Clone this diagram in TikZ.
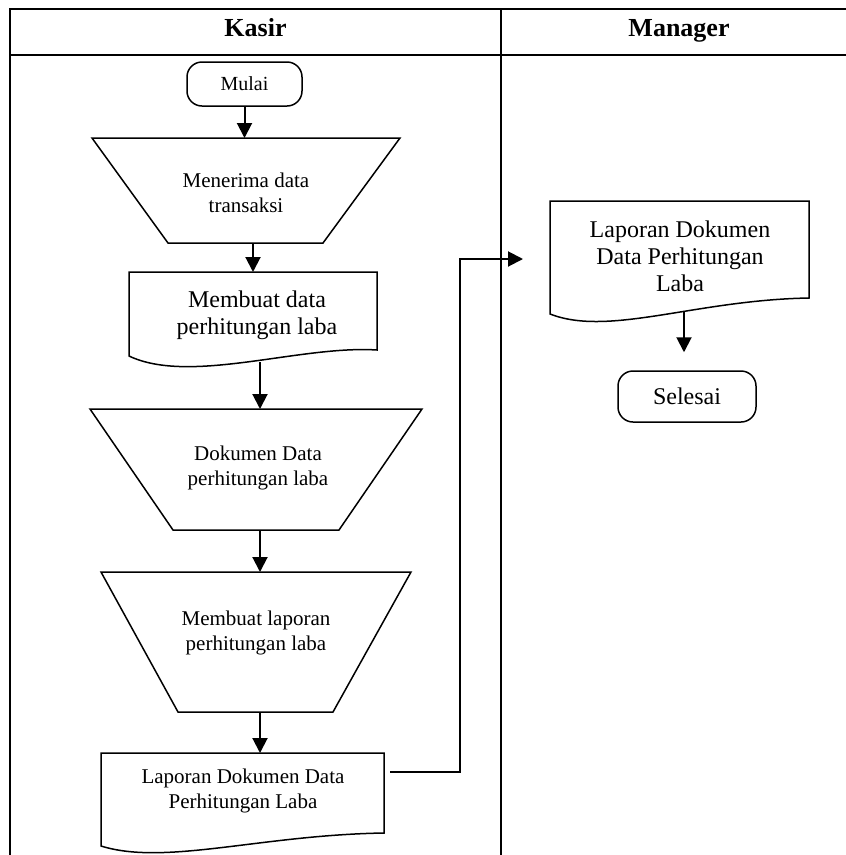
\documentclass[tikz,border=0pt]{standalone}
\usepackage{fontspec}
\setmainfont{Liberation Serif}
\usetikzlibrary{arrows.meta}
\begin{document}
\begin{tikzpicture}[x=1pt,y=-1pt,
  lane/.style={line width=2pt},
  outline/.style={line width=1.5pt, line join=miter},
  flow/.style={line width=2pt, -{Triangle[length=15pt,width=15pt]}},
  term/.style={draw, line width=1.5pt, rounded corners=15pt, align=center, inner sep=0pt},
  smalltxt/.style={font=\fontsize{21}{24.5}\selectfont, align=center, inner sep=0pt},
  bigtxt/.style={font=\fontsize{24}{27}\selectfont, align=center, inner sep=0pt},
  head/.style={font=\fontsize{26}{30}\selectfont\bfseries, inner sep=0pt, anchor=base}
]
\useasboundingbox (0,0) rectangle (846,855);

% swimlane grid
\draw[lane] (850,9) -- (10,9) -- (10,860);
\draw[lane] (10,55) -- (850,55);
\draw[lane] (501,9) -- (501,860);
\node[head] (kasir) at (255.5,36) {Kasir};
\node[head] (manager) at (679,36) {Manager};

% start terminator
\node[term, minimum width=115pt, minimum height=44pt,
      font=\fontsize{20}{24}\selectfont] (mulai) at (244.5,84) {Mulai};

% manual input: receive transaction data
\draw[outline] (92,138) -- (400,138) -- (323,243) -- (168,243) -- cycle;
\node[smalltxt] (t1) at (246,193) {Menerima data\\transaksi};
\coordinate (t1top) at (244.5,138);
\coordinate (t1bot) at (253,243);

% document: profit calculation data
\draw[outline] (129,356) -- (129,272) -- (377,272) -- (377,350)
  .. controls (300,345) and (190,385) .. (129,356) -- cycle;
\node[bigtxt] (d1) at (257,315) {Membuat data\\perhitungan laba};
\coordinate (d1top) at (253,272);
\coordinate (d1bot) at (260,362);

% manual input: profit calculation document
\draw[outline] (90,409) -- (422,409) -- (339,530) -- (173,530) -- cycle;
\node[smalltxt] (t2) at (258,468) {Dokumen Data\\perhitungan laba};
\coordinate (t2top) at (260,409);
\coordinate (t2bot) at (260,530);

% manual input: build profit report
\draw[outline] (101,572) -- (411,572) -- (333,712) -- (178,712) -- cycle;
\node[smalltxt] (t3) at (256,633) {Membuat laporan\\perhitungan laba};
\coordinate (t3top) at (260,572);
\coordinate (t3bot) at (260,712);

% document: report of profit calculation
\draw[outline] (101,846) -- (101,753) -- (384,753) -- (384,833)
  .. controls (260,835) and (165,866) .. (101,846) -- cycle;
\node[smalltxt] (d2) at (243,791) {Laporan Dokumen Data\\Perhitungan Laba};
\coordinate (d2top) at (260,753);
\coordinate (d2out) at (390,772);

% manager's copy of the report
\draw[outline] (550,314) -- (550,201) -- (809,201) -- (809,298)
  .. controls (695,300) and (609,337) .. (550,314) -- cycle;
\node[bigtxt] (d3) at (680,256) {Laporan Dokumen\\Data Perhitungan\\Laba};
\coordinate (d3in) at (523,259);
\coordinate (d3bot) at (684,311);

% end terminator
\node[term, minimum width=138pt, minimum height=51pt,
      font=\fontsize{24}{27}\selectfont] (selesai) at (687,396.5) {Selesai};

% flow connectors
\draw[flow] (mulai.south) -- (t1top);
\draw[flow] (t1bot) -- (d1top);
\draw[flow] (d1bot) -- (t2top);
\draw[flow] (t2bot) -- (t3top);
\draw[flow] (t3bot) -- (d2top);
\draw[flow] (d2out) -- ++(70,0) |- (d3in);
\draw[flow, shorten >=18pt] (d3bot) -- (selesai.north -| d3bot);
\end{tikzpicture}
\end{document}
